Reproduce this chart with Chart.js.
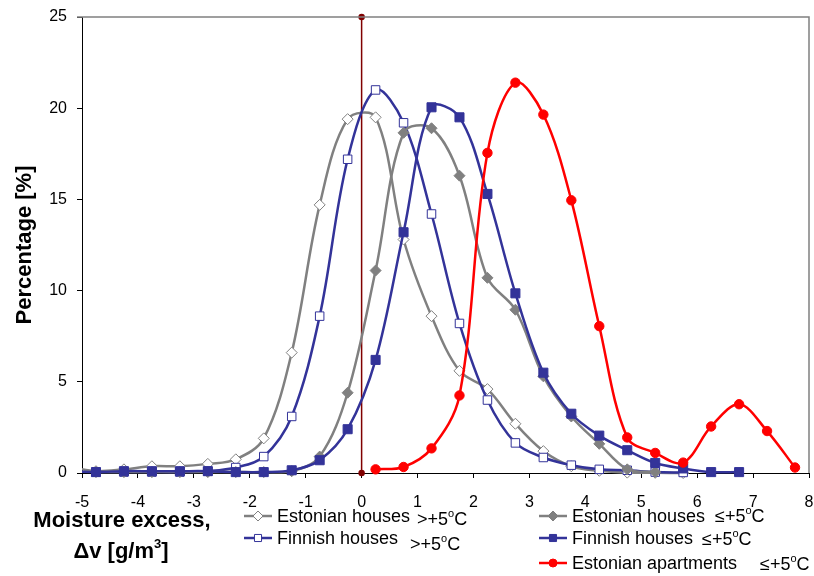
<!DOCTYPE html>
<html lang="en">
<head>
  <meta charset="UTF-8" />
  <title>Moisture excess distribution</title>
  <script src="https://cdn.jsdelivr.net/npm/chart.js"></script>
  <style>
    html, body { margin: 0; padding: 0; background: #fff; }
    #wrap { width: 814px; height: 576px; }
  </style>
</head>
<body>
<div id="wrap"><canvas id="chart" width="814" height="576"></canvas></div>
<script>
  // bin centres of the moisture excess classes, g/m3
  const moisture = [-5.25, -4.75, -4.25, -3.75, -3.25, -2.75, -2.25, -1.75, -1.25, -0.75, -0.25,
    0.25, 0.75, 1.25, 1.75, 2.25, 2.75, 3.25, 3.75, 4.25, 4.75, 5.25, 5.75, 6.25, 6.75, 7.25, 7.75];

  // share of cases per class, %
  const estHousesWarm = [0.35, 0.1, 0.2, 0.37, 0.37, 0.5, 0.75, 1.9, 6.6, 14.7, 19.4,
    19.5, 12.8, 8.6, 5.6, 4.6, 2.7, 1.2, 0.37, 0.12, 0.02, 0.01, 0, null, null, null, null];
  const finHousesWarm = [null, 0.05, 0.05, 0.05, 0.05, 0.1, 0.3, 0.9, 3.1, 8.6, 17.2,
    21.0, 19.2, 14.2, 8.2, 4.0, 1.65, 0.85, 0.43, 0.2, 0.15, 0.05, 0.03, null, null, null, null];
  const estHousesCold = [null, 0.05, 0.05, 0.05, 0.05, 0.05, 0.05, 0.05, 0.1, 0.9, 4.4,
    11.1, 18.65, 18.9, 16.3, 10.7, 8.95, 5.3, 3.1, 1.6, 0.2, 0.05, null, null, null, null, null];
  const finHousesCold = [0.1, 0.05, 0.1, 0.1, 0.1, 0.1, 0.05, 0.05, 0.15, 0.7, 2.4,
    6.2, 13.2, 20.05, 19.5, 15.3, 9.85, 5.5, 3.25, 2.05, 1.25, 0.55, 0.25, 0.05, 0.05, null, null];
  const estApartmentsCold = [null, null, null, null, null, null, null, null, null, null, null,
    0.2, 0.33, 1.35, 4.25, 17.55, 21.4, 19.65, 14.95, 8.05, 1.95, 1.1, 0.57, 2.55, 3.77, 2.3, 0.3];

  const xTicks = { min: -5, max: 8, step: 1 };
  const yTicks = { min: 0, max: 25, step: 5 };

  const GRAY = '#808080';
  const BLUE = '#333399';
  const RED = '#ff0000';
  const FONT = "'Liberation Sans', Arial, sans-serif";

  const pts = arr => moisture.map((x, i) => ({ x: x, y: arr[i] }));

  function series(arr, color, style, radius, filled) {
    return {
      data: pts(arr),
      borderColor: color,
      borderWidth: 2.5,
      tension: 0.35,
      pointStyle: style,
      pointRadius: radius,
      pointBorderWidth: 1,
      pointBorderColor: color,
      pointBackgroundColor: filled ? color : '#ffffff',
      clip: { left: 0, top: 10, right: 10, bottom: 10 }
    };
  }

  // legend entries, drawn by hand below the axis
  const legendItems = [
    { idx: 4, x: 244, y: 516, label: 'Estonian houses', pre: '>+5', cx: 417, cy: 525 },
    { idx: 3, x: 244, y: 538, label: 'Finnish houses', pre: '>+5', cx: 410, cy: 550 },
    { idx: 2, x: 539, y: 516, label: 'Estonian houses', pre: '\u2264+5', cx: 715, cy: 522 },
    { idx: 1, x: 539, y: 538, label: 'Finnish houses', pre: '\u2264+5', cx: 702, cy: 545 },
    { idx: 0, x: 539, y: 563, label: 'Estonian apartments', pre: '\u2264+5', cx: 760, cy: 570 }
  ];

  function degC(ctx, pre, x, y) {
    ctx.font = '18px ' + FONT;
    ctx.fillText(pre, x, y);
    x += ctx.measureText(pre).width;
    ctx.font = '11px ' + FONT;
    ctx.fillText('o', x, y - 8);
    x += ctx.measureText('o').width;
    ctx.font = '18px ' + FONT;
    ctx.fillText('C', x, y);
  }

  const decorations = {
    id: 'decorations',
    afterDatasetsDraw(chart) {
      const ctx = chart.ctx;
      const a = chart.chartArea;
      ctx.save();
      // plot frame on top and right
      ctx.strokeStyle = GRAY;
      ctx.lineWidth = 1.5;
      ctx.beginPath();
      ctx.moveTo(a.left - 5, a.top);
      ctx.lineTo(a.right, a.top);
      ctx.lineTo(a.right, a.bottom);
      ctx.stroke();
      ctx.restore();
    },
    afterDraw(chart) {
      const ctx = chart.ctx;
      const a = chart.chartArea;
      ctx.save();
      ctx.fillStyle = '#000';
      ctx.textAlign = 'center';
      ctx.textBaseline = 'alphabetic';

      // y axis title
      ctx.save();
      ctx.translate(25, (a.top + a.bottom) / 2);
      ctx.rotate(-Math.PI / 2);
      ctx.font = 'bold 22px ' + FONT;
      ctx.textBaseline = 'middle';
      ctx.fillText('Percentage [%]', 0, 0);
      ctx.restore();

      // x axis title, two lines
      ctx.font = 'bold 22px ' + FONT;
      ctx.fillText('Moisture excess,', 122, 527);
      ctx.textAlign = 'left';
      const l1 = '\u0394v [g/m', l2 = ']';
      ctx.font = 'bold 22px ' + FONT;
      const w1 = ctx.measureText(l1).width;
      ctx.font = 'bold 13px ' + FONT;
      const w3 = ctx.measureText('3').width;
      ctx.font = 'bold 22px ' + FONT;
      const w2 = ctx.measureText(l2).width;
      let x0 = 121 - (w1 + w3 + w2) / 2;
      ctx.fillText(l1, x0, 558);
      ctx.font = 'bold 13px ' + FONT;
      ctx.fillText('3', x0 + w1, 548);
      ctx.font = 'bold 22px ' + FONT;
      ctx.fillText(l2, x0 + w1 + w3, 558);

      // legend
      legendItems.forEach(item => {
        const ds = chart.data.datasets[item.idx];
        ctx.strokeStyle = ds.borderColor;
        ctx.lineWidth = 2.5;
        ctx.beginPath();
        ctx.moveTo(item.x, item.y);
        ctx.lineTo(item.x + 28, item.y);
        ctx.stroke();
        ctx.fillStyle = ds.pointBackgroundColor;
        ctx.strokeStyle = ds.pointBorderColor;
        ctx.lineWidth = 1;
        Chart.helpers.drawPoint(ctx, {
          pointStyle: ds.pointStyle,
          radius: ds.pointStyle === 'circle' ? 4 : 5,
          borderWidth: 1,
          rotation: 0
        }, item.x + 14, item.y);
        ctx.fillStyle = '#000';
        ctx.font = '18px ' + FONT;
        ctx.fillText(item.label, item.x + 33, item.y + 6);
        degC(ctx, item.pre, item.cx, item.cy);
      });
      ctx.restore();
    }
  };

  new Chart(document.getElementById('chart'), {
    type: 'line',
    data: {
      datasets: [
        series(estApartmentsCold, RED, 'circle', 4.7, true),
        series(finHousesCold, BLUE, 'rect', 6.4, true),
        series(estHousesCold, GRAY, 'rectRot', 5.5, true),
        series(finHousesWarm, BLUE, 'rect', 6, false),
        series(estHousesWarm, GRAY, 'rectRot', 5.5, false),
        {
          // zero line
          data: [{ x: 0, y: yTicks.min }, { x: 0, y: yTicks.max }],
          borderColor: '#800000',
          borderWidth: 1.5,
          pointRadius: 2.5,
          pointBackgroundColor: '#800000',
          pointBorderColor: '#800000',
          clip: 10
        }
      ]
    },
    options: {
      responsive: false,
      animation: false,
      events: [],
      layout: { autoPadding: false, padding: { left: 0, right: 5, top: 17, bottom: 0 } },
      plugins: { legend: { display: false }, tooltip: { enabled: false } },
      scales: {
        x: {
          type: 'linear',
          min: xTicks.min,
          max: xTicks.max,
          afterFit: s => { s.height = 103; s.paddingLeft = 0; s.paddingRight = 0; },
          ticks: { stepSize: xTicks.step, padding: 15, color: '#000', font: { family: FONT, size: 16 } },
          grid: { drawOnChartArea: false, tickLength: 5, color: '#000' },
          border: { color: '#000', width: 1 }
        },
        y: {
          min: yTicks.min,
          max: yTicks.max,
          afterFit: s => { s.width = 82; s.paddingTop = 0; s.paddingBottom = 0; },
          ticks: { stepSize: yTicks.step, padding: 10, color: '#000', font: { family: FONT, size: 16 } },
          grid: { drawOnChartArea: false, tickLength: 5, color: '#000' },
          border: { color: '#000', width: 1 }
        }
      }
    },
    plugins: [decorations]
  });
</script>
</body>
</html>
